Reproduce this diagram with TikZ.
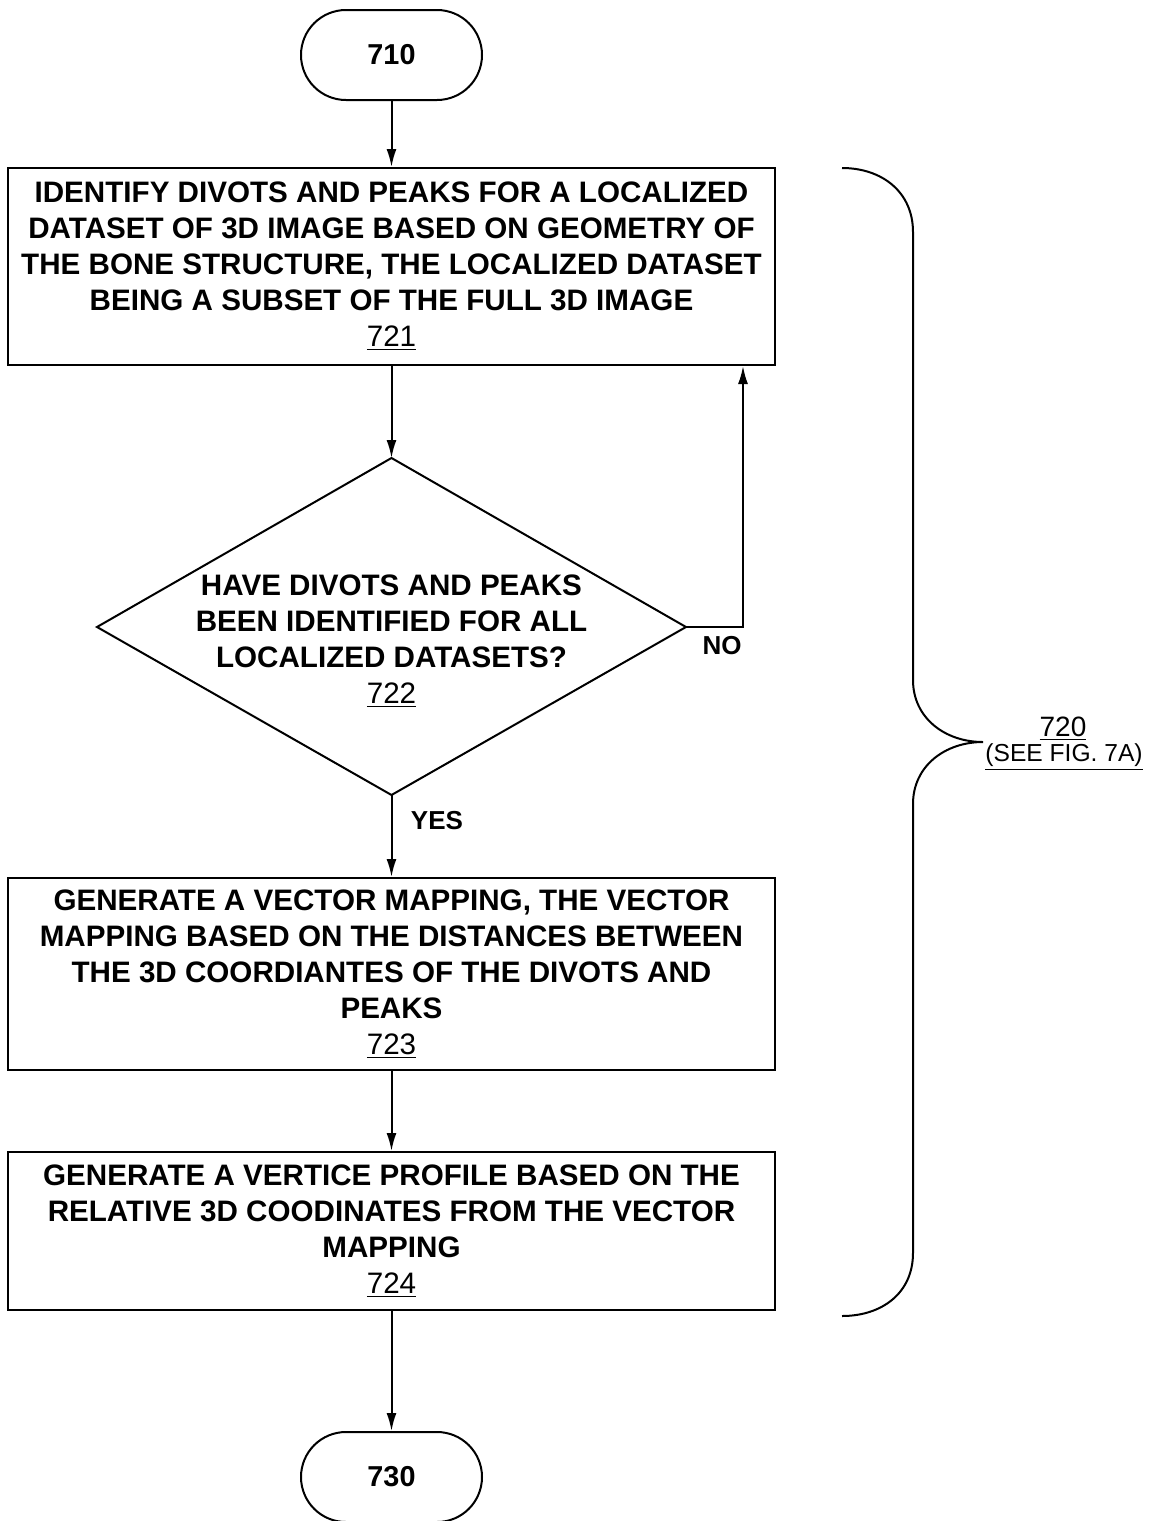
\documentclass[tikz,border=0pt]{standalone}
\usepackage{fontspec}
\setmainfont{Liberation Sans}
\usetikzlibrary{arrows.meta}
\newcommand\boxfont{\fontsize{14.8}{18}\selectfont\bfseries}
\newcommand\reffont{\fontsize{14.8}{18}\selectfont\mdseries}
\begin{document}
\begin{tikzpicture}[x=0.5pt,y=-0.5pt,
  line width=1pt,
  arr/.style={-{Latex[length=9pt,width=5pt]}},
  stepbox/.style={draw, rectangle, minimum width=383.5pt, inner sep=0pt, align=center, font=\boxfont},
  term/.style={draw, rectangle, rounded corners=22.5pt, minimum width=90.5pt, minimum height=45pt, inner sep=0pt, font=\fontsize{14.4}{18}\selectfont\bfseries},
  lbl/.style={inner sep=0pt, font=\fontsize{13}{16}\selectfont\bfseries}]
\useasboundingbox (0,0) rectangle (1152,1521);

\node[term] (t710) at (391.5,55) {710};
\node[stepbox, minimum height=98.5pt] (b721) at (391.5,266.5)
  {IDENTIFY DIVOTS AND PEAKS FOR A LOCALIZED\\
   DATASET OF 3D IMAGE BASED ON GEOMETRY OF\\
   THE BONE STRUCTURE, THE LOCALIZED DATASET\\
   BEING A SUBSET OF THE FULL 3D IMAGE\\
   {\reffont\underline{721}}};

\coordinate (dT) at (391.5,458);
\coordinate (dR) at (686,627);
\coordinate (dB) at (391.5,795);
\coordinate (dL) at (97,627);
\draw (dT) -- (dR) -- (dB) -- (dL) -- cycle;
\node[inner sep=0pt, align=center, font=\boxfont] (q722) at (391.5,641)
  {HAVE DIVOTS AND PEAKS\\
   BEEN IDENTIFIED FOR ALL\\
   LOCALIZED DATASETS?\\
   {\reffont\underline{722}}};

\node[stepbox, minimum height=96pt] (b723) at (391.5,974)
  {GENERATE A VECTOR MAPPING, THE VECTOR\\
   MAPPING BASED ON THE DISTANCES BETWEEN\\
   THE 3D COORDIANTES OF THE DIVOTS AND\\
   PEAKS\\
   {\reffont\underline{723}}};

\node[stepbox, minimum height=79pt] (b724) at (391.5,1231)
  {GENERATE A VERTICE PROFILE BASED ON THE\\
   RELATIVE 3D COODINATES FROM THE VECTOR\\
   MAPPING\\
   {\reffont\underline{724}}};

\node[term] (t730) at (391.5,1477) {730};

\draw[arr] (t710) -- (b721);
\draw[arr] (b721) -- (dT);
\coordinate (noc) at (743,627);
\draw[arr] (dR) -- (noc) -- (noc |- b721.south);
\node[lbl] (no) at (722,646) {NO};
\draw[arr] (dB) -- (b723);
\node[lbl] (yes) at (437,821) {YES};
\draw[arr] (b723) -- (b724);
\draw[arr] (b724) -- (t730);

% brace
\draw (842,168) .. controls (882,168) and (913,192) .. (913,232)
  -- (913,680) .. controls (913,718) and (945,742) .. (983,742)
  .. controls (945,742) and (913,766) .. (913,804)
  -- (913,1253) .. controls (913,1293) and (882,1316) .. (842,1316);
\node[inner sep=0pt, font=\fontsize{14}{16}\selectfont] (l720) at (1063,729) {\underline{720}};
\node[inner sep=0pt, font=\fontsize{12.3}{14}\selectfont] (l7a) at (1064,757) {\underline{(SEE FIG. 7A)}};
\end{tikzpicture}
\end{document}
